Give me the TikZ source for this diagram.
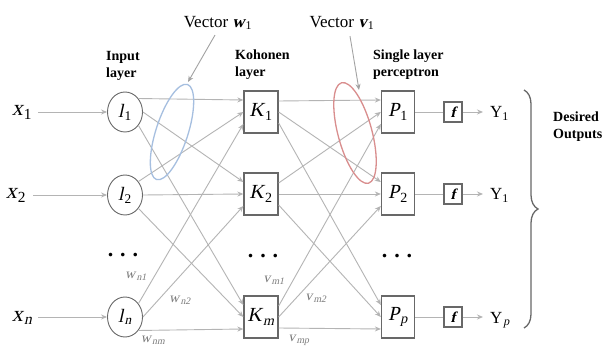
\documentclass[tikz,border=0pt]{standalone}
\usepackage{fontspec}
\setmainfont{Liberation Serif}
\newfontfamily\slfont{Liberation Serif}[FakeSlant=0.22]
\newcommand\mysub[2]{{\slfont #1}\kern1.2pt\textsubscript{#2}}
\usetikzlibrary{arrows.meta,calc,shapes.geometric,decorations.pathreplacing}
\definecolor{linegray}{HTML}{B4B4B4}
\definecolor{bordergray}{HTML}{686868}
\definecolor{wgray}{HTML}{7A7A7A}
\definecolor{ellblue}{HTML}{A6BFE0}
\definecolor{ellred}{HTML}{D98E8E}
\begin{document}
\begin{tikzpicture}[x=1pt,y=1pt,
  conn/.style={draw=linegray, line width=0.9pt, -{Stealth[length=6pt,width=5pt]}},
  plainline/.style={draw=linegray, line width=0.9pt},
  inneuron/.style={ellipse, draw=bordergray, line width=0.9pt, minimum width=35pt, minimum height=40pt, inner sep=0pt, fill=white, font=\fontsize{19}{19}\selectfont},
  kbox/.style={rectangle, draw=bordergray, line width=1.3pt, minimum width=34pt, minimum height=42pt, inner sep=0pt, fill=white, font=\fontsize{20}{20}\selectfont},
  fbox/.style={rectangle, draw=bordergray, line width=1.8pt, minimum width=18pt, minimum height=20pt, inner sep=0pt, fill=white, font=\fontsize{15}{15}\selectfont},
  lbl/.style={font=\fontsize{14}{17}\selectfont\bfseries, align=left, anchor=west, inner sep=0pt},
  xlbl/.style={font=\fontsize{22}{22}\selectfont, anchor=base, inner sep=0pt},
  ylbl/.style={font=\fontsize{17}{17}\selectfont, anchor=base west, inner sep=0pt},
  wlbl/.style={text=wgray, font=\fontsize{14}{14}\selectfont, inner sep=0pt},
  dots/.style={font=\fontsize{22}{22}\selectfont\bfseries, inner sep=0pt},
  veclbl/.style={font=\fontsize{17}{17}\selectfont, inner sep=0pt},
  vecarrow/.style={draw=linegray!90!black, line width=0.9pt, -{Stealth[length=6pt,width=5pt]}}
]
\fill[white] (0,0) rectangle (604,345);
\useasboundingbox (0,0) rectangle (604,345);

% input neurons
\node[inneuron] (l1) at (125,233) {\mysub{l}{1}};
\node[inneuron] (l2) at (125,150) {\mysub{l}{2}};
\node[inneuron] (ln) at (125,28) {\mysub{l}{\slfont n}};
% Kohonen
\node[kbox] (K1) at (261,233) {\mysub{K}{1}};
\node[kbox] (K2) at (261,151) {\mysub{K}{2}};
\node[kbox] (Km) at (261,28) {\mysub{K}{\slfont m}};
% perceptron
\node[kbox, minimum width=33pt] (P1) at (398,233) {\mysub{P}{1}};
\node[kbox, minimum width=33pt] (P2) at (398,151) {\mysub{P}{2}};
\node[kbox, minimum width=33pt] (Pp) at (398,28) {\mysub{P}{\slfont p}};
% f boxes
\node[fbox] (f1) at (453,233) {\slfont\bfseries f};
\node[fbox] (f2) at (453,151) {\slfont\bfseries f};
\node[fbox] (fp) at (453,28) {\slfont\bfseries f};
% outputs
\node[ylbl] (y1) at (490,227) {Y\textsubscript{1}};
\node[ylbl] (y2) at (490,145) {Y\textsubscript{1}};
\node[ylbl] (yp) at (490,22) {Y\kern1pt\textsubscript{\slfont p}};
% inputs
\node[xlbl] (x1) at (22,229) {\mysub{x}{1}};
\node[xlbl] (x2) at (16,146) {\mysub{x}{2}};
\node[xlbl] (xn) at (22,24) {\mysub{x}{\slfont n}};

\draw[conn] ($(x1.east |- l1)+(6,0)$) -- (l1.west);
\draw[conn] ($(x2.east |- l2)+(7,0)$) -- (l2.west);
\draw[conn] ($(xn.east |- ln)+(6,0)$) -- (ln.west);

% input -> Kohonen
\foreach \s/\so in {l1/12,l2/0,ln/-12}
  \foreach \t/\ta in {K1/45,K2/0,Km/-45}
    \draw[conn] (\s.\ta) -- ($(\t.west)+(0,\so)$);
% Kohonen -> perceptron
\foreach \s/\so in {K1/12,K2/0,Km/-12}
  \foreach \t/\dd in {P1/11,P2/0,Pp/-11}
    \draw[conn] ($(\s.east)+(0,\dd)$) -- ($(\t.west)+(0,\so)$);

% perceptron -> f -> Y
\foreach \p/\f/\y in {P1/f1/y1,P2/f2/y2,Pp/fp/yp}{
  \draw[plainline] (\p.east) -- (\f.west);
  \draw[conn, shorten >=7pt] (\f.east) -- (\f.east -| \y.west);
}

% ellipses
\draw[ellblue, line width=1.3pt, rotate around={72:(172,213)}] (172,213) ellipse [x radius=50pt, y radius=16pt];
\draw[ellred, line width=1.3pt, rotate around={-75:(355,212)}] (355,212) ellipse [x radius=52pt, y radius=17pt];

% vector labels
\node[veclbl] (vw) at (218,322) {Vector {\slfont\bfseries w}\kern1pt\textsubscript{1}};
\node[veclbl] (vv) at (342,322) {Vector {\slfont\bfseries v}\kern1pt\textsubscript{1}};
\coordinate (wtip) at (188,263);
\coordinate (vtip) at (359,255);
\draw[vecarrow] ($(vw.south)+(-3,-5)$) -- (wtip);
\draw[vecarrow] ($(vv.south)+(8,-6)$) -- (vtip);

% layer labels
\node[lbl] (lin) at (106,279) {Input\\layer};
\node[lbl] (lko) at (235,280) {Kohonen\\layer};
\node[lbl] (lsp) at (373,280) {Single layer\\perceptron};

% dots
\node[dots] (d1) at (123,90) {.\hspace{7pt}.\hspace{7pt}.};
\node[dots] (d2) at (263,89) {.\hspace{7pt}.\hspace{7pt}.};
\node[dots] (d3) at (397,89) {.\hspace{7pt}.\hspace{7pt}.};

% weight labels
\node[wlbl] (wn1) at (136,69) {\mysub{w}{\slfont n1}};
\node[wlbl] (wn2) at (180,45) {\mysub{w}{\slfont n2}};
\node[wlbl] (wnm) at (153,5) {\mysub{w}{\slfont nm}};
\node[wlbl] (vm1) at (274,65) {\mysub{v}{\slfont m1}};
\node[wlbl] (vm2) at (316,47) {\mysub{v}{\slfont m2}};
\node[wlbl] (vmp) at (299,5) {\mysub{v}{\slfont mp}};

% brace
\draw[decorate, decoration={brace, amplitude=14pt}, draw=bordergray, line width=1.3pt] (524,255) -- (524,17);
\node[lbl] (des) at (553,218) {Desired\\Outputs};
\end{tikzpicture}
\end{document}
